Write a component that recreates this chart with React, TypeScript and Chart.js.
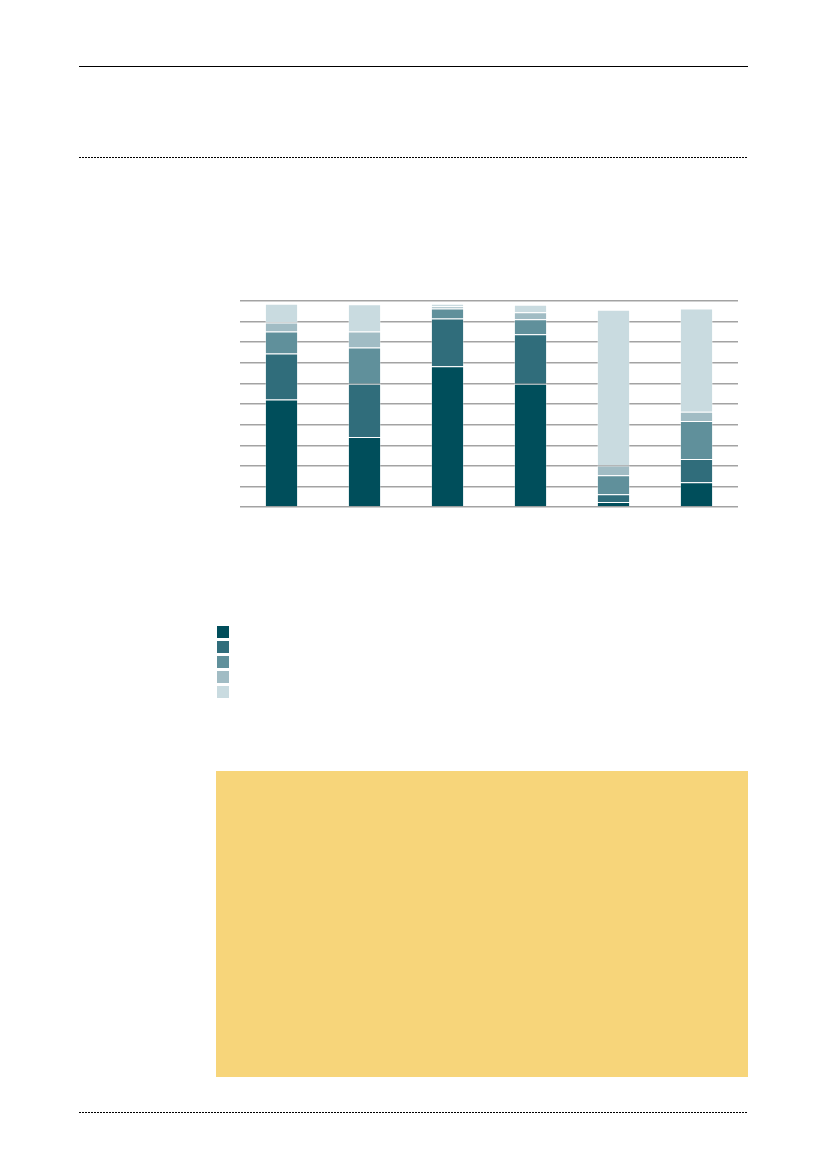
import React, { useEffect, useRef } from "react";
import { Chart, registerables } from "chart.js";

Chart.register(...registerables);

const categories = ["1", "2", "3", "4", "5", "6"];
const series1 = [52.2, 34.0, 68.3, 59.8, 2.4, 12.0];
const series2 = [22.3, 25.8, 23.2, 24.1, 3.8, 11.3];
const series3 = [10.7, 17.6, 4.9, 7.2, 9.2, 18.5];
const series4 = [4.4, 7.8, 1.0, 3.4, 4.8, 4.4];
const series5 = [9.1, 13.2, 1.3, 3.7, 75.6, 50.2];
const seriesNames = ["Series 1", "Series 2", "Series 3", "Series 4", "Series 5"];
const seriesColors = ["#004e5b", "#306d7b", "#60909b", "#a1bcc4", "#c9dbe0"];
const yTicks = [0, 10, 20, 30, 40, 50, 60, 70, 80, 90, 100];

const allSeries = [series1, series2, series3, series4, series5];

function StackedChart() {
  const ref = useRef<HTMLCanvasElement | null>(null);
  useEffect(() => {
    if (!ref.current) return;
    const chart = new Chart(ref.current, {
      type: "bar",
      data: {
        labels: categories,
        datasets: allSeries.map((s, i) => ({
          label: seriesNames[i],
          data: s,
          backgroundColor: seriesColors[i],
          borderColor: "rgba(255,255,255,0.3)",
          borderWidth: 1,
          barPercentage: 0.4,
          categoryPercentage: 1,
        })),
      },
      options: {
        animation: false,
        responsive: false,
        maintainAspectRatio: false,
        layout: { padding: { top: 5, bottom: 5, left: 0, right: 0 } },
        plugins: { legend: { display: false }, tooltip: { enabled: false } },
        scales: {
          x: { stacked: true, display: false },
          y: {
            stacked: true,
            min: yTicks[0],
            max: yTicks[yTicks.length - 1],
            afterBuildTicks: (scale: any) => {
              scale.ticks = yTicks.map((v) => ({ value: v }));
            },
            ticks: { display: false },
            border: { display: false },
            grid: { color: "#a3a3a3", lineWidth: 1.4, drawTicks: false },
          },
        },
      },
    });
    return () => chart.destroy();
  }, []);
  return (
    <canvas
      ref={ref}
      width={498}
      height={216}
      style={{ position: "absolute", left: 240, top: 296, width: 498, height: 216 }}
    />
  );
}

export default function App() {
  return (
    <div style={{ position: "absolute", left: 0, top: 0, width: 827, height: 1169, background: "#fff" }}>
      <div style={{ position: "absolute", left: 79, top: 66, width: 669, height: 1, background: "#000" }} />
      <div
        style={{
          position: "absolute",
          left: 79,
          top: 157,
          width: 669,
          height: 1,
          backgroundImage: "repeating-linear-gradient(to right, #000 0 2px, transparent 2px 3px)",
        }}
      />
      <StackedChart />
      {seriesColors.map((c, i) => (
        <div
          key={seriesNames[i]}
          title={seriesNames[i]}
          style={{ position: "absolute", left: 217, top: 626 + i * 15, width: 12, height: 12, background: c }}
        />
      ))}
      <div style={{ position: "absolute", left: 216, top: 771, width: 532, height: 306, background: "#f7d57a" }} />
      <div
        style={{
          position: "absolute",
          left: 79,
          top: 1112,
          width: 669,
          height: 1,
          backgroundImage: "repeating-linear-gradient(to right, #000 0 2px, transparent 2px 3px)",
        }}
      />
    </div>
  );
}
